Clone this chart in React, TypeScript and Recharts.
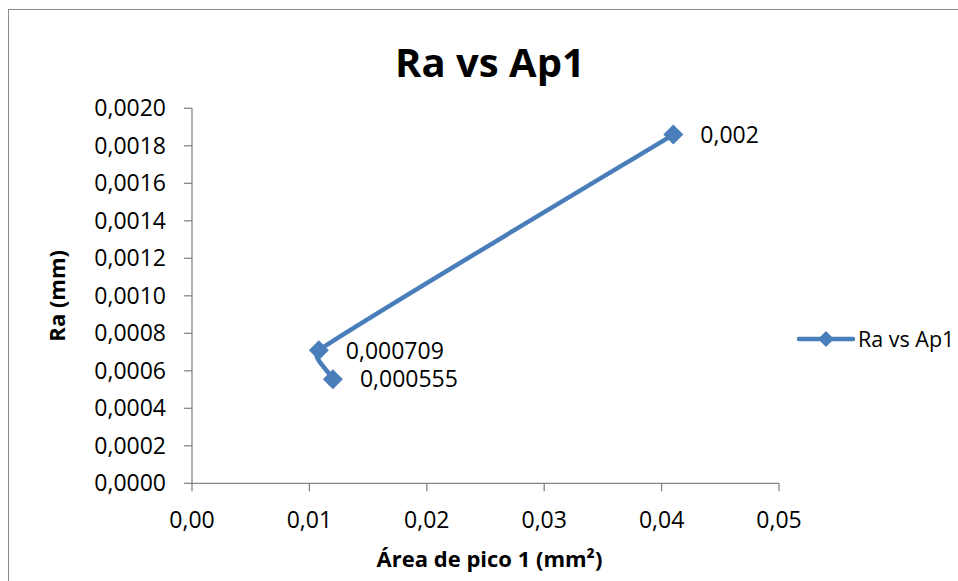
import React from 'react';
import { LineChart, Line, XAxis, YAxis, LabelList, Legend } from 'recharts';

const areaValues = [0.012, 0.0108, 0.041];
const raValues = [0.000555, 0.000709, 0.00186];
const pointLabels = ['0,000555', '0,000709', '0,002'];
const xTicks = [0, 0.01, 0.02, 0.03, 0.04, 0.05];
const yTicks = [0, 0.0002, 0.0004, 0.0006, 0.0008, 0.001, 0.0012, 0.0014, 0.0016, 0.0018, 0.002];
const seriesName = 'Ra vs Ap1';
const chartTitle = 'Ra vs Ap1';
const xTitle = 'Área de pico 1 (mm²)';
const yTitle = 'Ra (mm)';

const data = areaValues.map((x, i) => ({ x, y: raValues[i], label: pointLabels[i] }));

const FONT = '"Open Sans", "Liberation Sans", sans-serif';
const BLUE = '#4a7ebb';
const AXIS = '#868686';

// Excel-like smoothing: tangent parallel to neighbours, handle scaled by segment length (capped)
function excelSmooth(context: any) {
  let pts: number[][] = [];
  const S = 0.33;
  const MAXH = 40;
  return {
    areaStart() {},
    areaEnd() {},
    lineStart() {
      pts = [];
    },
    point(x: number, y: number) {
      pts.push([+x, +y]);
    },
    lineEnd() {
      const n = pts.length;
      if (!n) return;
      context.moveTo(pts[0][0], pts[0][1]);
      if (n === 1) return;
      const tan = pts.map((_p, i) => {
        const a = pts[Math.max(0, i - 1)];
        const b = pts[Math.min(n - 1, i + 1)];
        const dx = b[0] - a[0];
        const dy = b[1] - a[1];
        const l = Math.hypot(dx, dy) || 1;
        return [dx / l, dy / l];
      });
      for (let i = 0; i < n - 1; i++) {
        const p = pts[i];
        const q = pts[i + 1];
        const L = Math.min(Math.hypot(q[0] - p[0], q[1] - p[1]) * S, MAXH);
        context.bezierCurveTo(
          p[0] + tan[i][0] * L,
          p[1] + tan[i][1] * L,
          q[0] - tan[i + 1][0] * L,
          q[1] - tan[i + 1][1] * L,
          q[0],
          q[1]
        );
      }
    },
  };
}

const Diamond = (props: any) => {
  const { cx, cy, index } = props;
  if (cx == null || cy == null) return <g key={`d${index}`} />;
  const r = 10;
  return (
    <path
      key={`d${index}`}
      d={`M${cx},${cy - r}L${cx + r},${cy}L${cx},${cy + r}L${cx - r},${cy}Z`}
      fill={BLUE}
    />
  );
};

const renderYTitle = (props: any) => {
  const vb = props.viewBox || {};
  const cx = vb.x + vb.width - 136;
  const cy = vb.y + vb.height / 2;
  return (
    <text
      x={cx}
      y={cy}
      transform={`rotate(-90 ${cx} ${cy})`}
      textAnchor="middle"
      dominantBaseline="central"
      fontFamily={FONT}
      fontWeight="bold"
      fontSize={22}
      fill="#000"
    >
      {yTitle}
    </text>
  );
};

const renderXTitle = (props: any) => {
  const vb = props.viewBox || {};
  return (
    <text
      x={vb.x + vb.width / 2 + 4}
      y={vb.y + 84}
      textAnchor="middle"
      fontFamily={FONT}
      fontWeight="bold"
      fontSize={22}
      fill="#000"
    >
      {xTitle}
    </text>
  );
};

const LegendContent = () => (
  <div style={{ display: 'flex', alignItems: 'center', whiteSpace: 'nowrap', width: 170 }}>
    <svg width={58} height={24} style={{ flex: 'none' }}>
      <line x1={2} y1={12} x2={56} y2={12} stroke={BLUE} strokeWidth={4.5} strokeLinecap="round" />
      <path d="M29,4L37,12L29,20L21,12Z" fill={BLUE} />
    </svg>
    <span style={{ marginLeft: 3, fontSize: 21.5, fontFamily: FONT, color: '#000', lineHeight: '24px', flex: 'none' }}>
      {seriesName}
    </span>
  </div>
);

export default function App() {
  return (
    <div
      style={{
        position: 'fixed',
        left: 0,
        top: 0,
        width: 958,
        height: 581,
        overflow: 'hidden',
        background: '#fff',
      }}
    >
      <div
        style={{
          position: 'absolute',
          left: 8,
          top: 9,
          width: 1000,
          height: 620,
          borderLeft: '1.5px solid #8a8a8a',
          borderTop: '1.5px solid #8a8a8a',
          pointerEvents: 'none',
        }}
      />
      <div style={{ position: 'absolute', left: 8, top: 8 }}>
        <LineChart
          width={950}
          height={573}
          data={data}
          margin={{ top: 100.3, right: 179, bottom: 37.7, left: 84 }}
        >
          <text
            x={482}
            y={68.7}
            textAnchor="middle"
            fontFamily={FONT}
            fontWeight="bold"
            fontSize={40}
            fill="#000"
          >
            {chartTitle}
          </text>
          <XAxis
            type="number"
            dataKey="x"
            domain={[0, 0.05]}
            ticks={xTicks}
            interval={0}
            tickFormatter={(v: number) => v.toFixed(2).replace('.', ',')}
            tick={{ fontSize: 23, fill: '#000', fontFamily: FONT }}
            tickSize={8}
            tickMargin={20}
            height={60}
            stroke={AXIS}
            strokeWidth={1.3}
            allowDataOverflow
            label={{ value: xTitle, content: renderXTitle }}
          />
          <YAxis
            type="number"
            dataKey="y"
            domain={[0, 0.002]}
            ticks={yTicks}
            interval={0}
            tickFormatter={(v: number) => v.toFixed(4).replace('.', ',')}
            tick={{ fontSize: 23, fill: '#000', fontFamily: FONT }}
            tickSize={8}
            tickMargin={18}
            width={100}
            stroke={AXIS}
            strokeWidth={1.3}
            allowDataOverflow
            label={{ value: yTitle, content: renderYTitle }}
          />
          <Legend
            layout="horizontal"
            verticalAlign="middle"
            align="center"
            content={<LegendContent />}
            wrapperStyle={{ position: 'absolute', left: 789, top: 319, width: 170, height: 24 }}
          />
          <Line
            name={seriesName}
            dataKey="y"
            type={excelSmooth as any}
            stroke={BLUE}
            strokeWidth={4.5}
            dot={Diamond}
            activeDot={false}
            isAnimationActive={false}
          >
            <LabelList
              dataKey="label"
              position="right"
              offset={27}
              style={{ fontSize: 23, fill: '#000', fontFamily: FONT }}
            />
          </Line>
        </LineChart>
      </div>
    </div>
  );
}
